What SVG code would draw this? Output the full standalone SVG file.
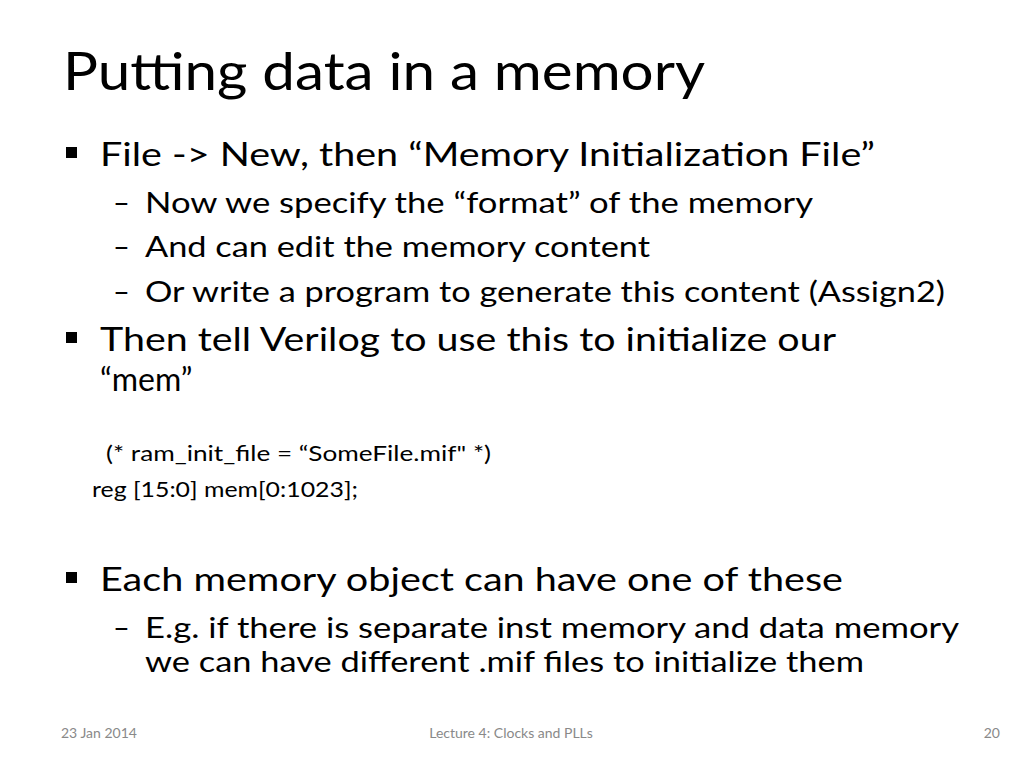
<svg xmlns="http://www.w3.org/2000/svg" width="1024" height="768" viewBox="0 0 1024 768">
<style>
text{font-family:Lato,"Open Sans",sans-serif;fill:#000}
.t{font-size:52px}
.b{font-size:32px}
.s{font-size:29px}
.c{font-size:21px}
.f{font-size:14px;fill:#898989}
</style>
<rect width="1024" height="768" fill="#fff"/>
<text class="t" x="63" y="90" textLength="642" lengthAdjust="spacingAndGlyphs">Putting data in a memory</text>
<g id="bullets">
<rect x="66" y="147" width="11" height="11"/>
<rect x="66" y="332" width="11" height="11"/>
<rect x="66" y="572" width="11" height="11"/>
</g>
<text class="b" x="100" y="166" textLength="775" lengthAdjust="spacingAndGlyphs">File -&gt; New, then “Memory Initialization File”</text>
<text class="s" x="113" y="213">–</text>
<text class="s" x="145" y="213" textLength="668" lengthAdjust="spacingAndGlyphs">Now we specify the “format” of the memory</text>
<text class="s" x="113" y="257">–</text>
<text class="s" x="145" y="257" textLength="505" lengthAdjust="spacingAndGlyphs">And can edit the memory content</text>
<text class="s" x="113" y="302">–</text>
<text class="s" x="145" y="302" textLength="800" lengthAdjust="spacingAndGlyphs">Or write a program to generate this content (Assign2)</text>
<text class="b" x="100" y="351" textLength="736" lengthAdjust="spacingAndGlyphs">Then tell Verilog to use this to initialize our</text>
<text class="b" x="100" y="391">“mem”</text>
<text class="c" x="106" y="461" textLength="385" lengthAdjust="spacingAndGlyphs">(* ram_init_file = “SomeFile.mif" *)</text>
<text class="c" x="92" y="497" textLength="266" lengthAdjust="spacingAndGlyphs">reg [15:0] mem[0:1023];</text>
<text class="b" x="100" y="591" textLength="743" lengthAdjust="spacingAndGlyphs">Each memory object can have one of these</text>
<text class="s" x="113" y="638">–</text>
<text class="s" x="145" y="638" textLength="814" lengthAdjust="spacingAndGlyphs">E.g. if there is separate inst memory and data memory</text>
<text class="s" x="145" y="672" textLength="719" lengthAdjust="spacingAndGlyphs">we can have different .mif files to initialize them</text>
<text class="f" x="61" y="738">23 Jan 2014</text>
<text class="f" x="511" y="738" text-anchor="middle">Lecture 4: Clocks and PLLs</text>
<text class="f" x="1000" y="738" text-anchor="end">20</text>
</svg>
